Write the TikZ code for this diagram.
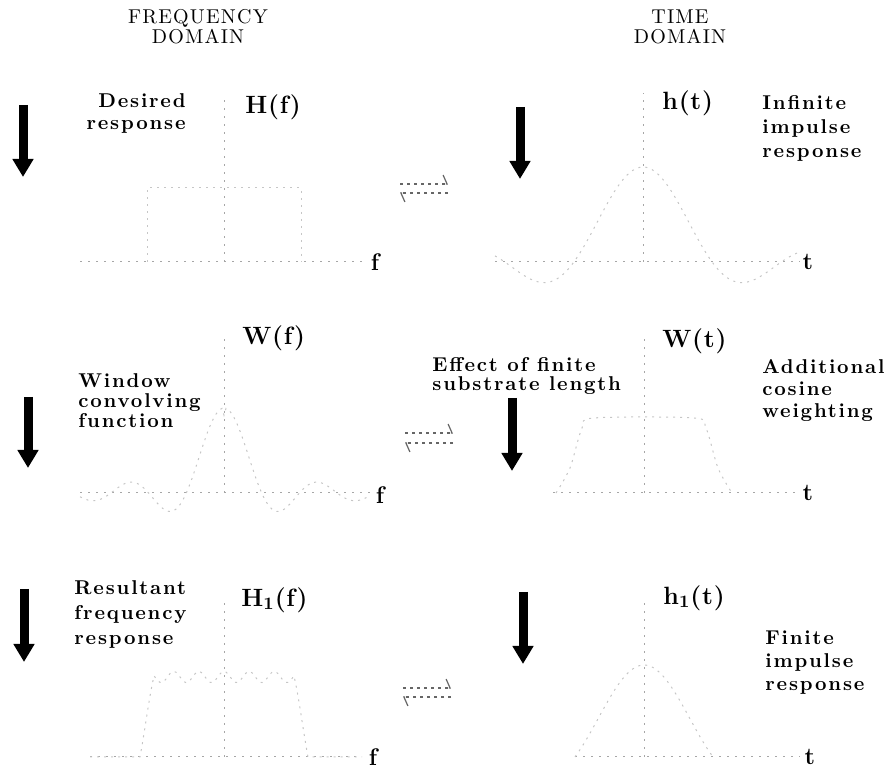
\documentclass[tikz,border=0pt]{standalone}
\usepackage{fontspec}
\setmainfont{Latin Modern Roman}
\newfontfamily\headfont[LetterSpace=6]{Latin Modern Roman}
\newfontfamily\labfont[LetterSpace=9]{Latin Modern Roman}
\newfontfamily\symfont[LetterSpace=3]{Latin Modern Roman}
\usepackage{tikz}
\usetikzlibrary{arrows.meta}
\tikzset{
  heading/.style={align=center, font=\headfont\fontsize{10}{10}\selectfont, inner sep=0pt},
  note/.style={font=\labfont\bfseries\fontsize{10}{#1}\selectfont, inner sep=0pt, align=left},
  note/.default={11},
  fname/.style={font=\symfont\bfseries\fontsize{12.5}{14}\selectfont, anchor=west, inner sep=0pt},
  varname/.style={font=\bfseries\fontsize{12}{14}\selectfont, inner sep=0pt},
  downarr/.style={line width=4.5pt, -{Triangle[width=10pt, length=9pt]}},
  axisline/.style={gray!70, line width=0.5pt, dash pattern=on 1pt off 3pt},
  trace/.style={gray!45, line width=0.5pt, dash pattern=on 1pt off 2.5pt},
  pairline/.style={black!60, line width=0.6pt, dash pattern=on 1.5pt off 2pt,
                   -{Straight Barb[harpoon, length=2pt, width=9pt]}},
}

\begin{document}
\begin{tikzpicture}[x=0.5pt, y=-0.5pt,
  declare function={sincf(\t)=sin(deg(\t+0.0001))/(\t+0.0001);}]
\useasboundingbox (0,0) rectangle (891,774);
% column headings
\node[heading, anchor=north] (hdfreq) at (198,9) {FREQUENCY\\DOMAIN};
\node[heading, anchor=north] (hdtime) at (680,9) {TIME\\DOMAIN};

% (1) desired response and its impulse response
\coordinate (dl1a) at (23,105);  \coordinate (dl1b) at (23,177);
\coordinate (dr1a) at (520,107); \coordinate (dr1b) at (520,179);
\draw[downarr] (dl1a) -- (dl1b);
\draw[downarr] (dr1a) -- (dr1b);
\node[note, anchor=north east, align=right] (desired) at (186,93) {Desired\\response};
\node[fname] (Hf) at (245,107) {H(f)};
\draw[axisline] (80,262) -- (362,262);
\draw[axisline] (224,262) -- (224,94);
\draw[trace] (147,262) -- (147,188) -- (301,188) -- (301,262);
\node[varname] (f1) at (375,262) {f};
\draw[axisline] (495,262) -- (800,262);
\draw[axisline] (643,262) -- (643,93);
\draw[trace] plot[domain=-148:157, samples=121] ({643+\x},{262-95*sincf(\x/22)});
\node[varname] (t1) at (808,262) {t};
\node[fname] (ht) at (662,103) {h(t)};
\node[note=12, anchor=north west] (infinite) at (762,95) {Infinite\\impulse\\response};
\coordinate (p1a) at (400,184); \coordinate (p1b) at (448,184);
\coordinate (p1c) at (448,193); \coordinate (p1d) at (400,193);
\draw[pairline] (p1a) -- (p1b);
\draw[pairline] (p1c) -- (p1d);

% (2) window function in both domains
\coordinate (dl2a) at (28,397);  \coordinate (dl2b) at (28,468);
\coordinate (dr2a) at (512,398); \coordinate (dr2b) at (512,471);
\draw[downarr] (dl2a) -- (dl2b);
\draw[downarr] (dr2a) -- (dr2b);
\node[fname] (Wf) at (242,338) {W(f)};
\node[note=10, anchor=north west] (window) at (78,373) {Window\\convolving\\function};
\draw[axisline] (80,493) -- (370,493);
\draw[axisline] (224,493) -- (224,333);
\draw[trace] plot[domain=-144:146, samples=146] ({224+\x},{493-85*sincf(\x/12)});
\node[varname] (f2) at (380,495) {f};
\node[note=9.5, anchor=north west] (effect) at (432,357) {Effect of finite\\substrate length};
\node[fname] (Wt) at (662,341) {W(t)};
\node[note=11, anchor=north west] (additional) at (762,359) {Additional\\cosine\\weighting};
\draw[axisline] (553,493) -- (800,493);
\draw[axisline] (644,493) -- (644,337);
\draw[trace] plot[smooth] coordinates {(556,493) (570,468) (582,428) (594,418)
  (694,418) (706,428) (718,468) (732,493)};
\node[varname] (t2) at (808,493) {t};
\coordinate (p2a) at (405,433); \coordinate (p2b) at (453,433);
\coordinate (p2c) at (453,443); \coordinate (p2d) at (405,443);
\draw[pairline] (p2a) -- (p2b);
\draw[pairline] (p2c) -- (p2d);

% (3) resulting finite filter
\coordinate (dl3a) at (24,589);  \coordinate (dl3b) at (24,662);
\coordinate (dr3a) at (523,592); \coordinate (dr3b) at (523,664);
\draw[downarr] (dl3a) -- (dl3b);
\draw[downarr] (dr3a) -- (dr3b);
\node[note=12.5, anchor=north west] (resultant) at (74,580) {Resultant\\frequency\\response};
\node[fname] (H1f) at (241,600) {H\textsubscript{1}(f)};
\draw[axisline] (90,757) -- (362,757);
\draw[axisline] (224,757) -- (224,600);
\draw[trace] plot[domain=90:362, samples=137]
  (\x,{757-80*min(1,max(0,(\x-140)/14))*min(1,max(0,(308-\x)/14))*(1+0.07*cos(deg((\x-224)/4)))});
\node[varname] (f3) at (373,757) {f};
\node[fname] (h1t) at (663,598) {h\textsubscript{1}(t)};
\node[note=11.5, anchor=north west] (finite) at (765,630) {Finite\\impulse\\response};
\draw[axisline] (575,757) -- (800,757);
\draw[axisline] (644,757) -- (644,598);
\draw[trace] plot[domain=-69:69, samples=70] ({644+\x},{757-92*sincf(\x/22)});
\node[varname] (t3) at (810,757) {t};
\coordinate (p3a) at (403,688); \coordinate (p3b) at (451,688);
\coordinate (p3c) at (451,697); \coordinate (p3d) at (403,697);
\draw[pairline] (p3a) -- (p3b);
\draw[pairline] (p3c) -- (p3d);
\end{tikzpicture}
\end{document}
